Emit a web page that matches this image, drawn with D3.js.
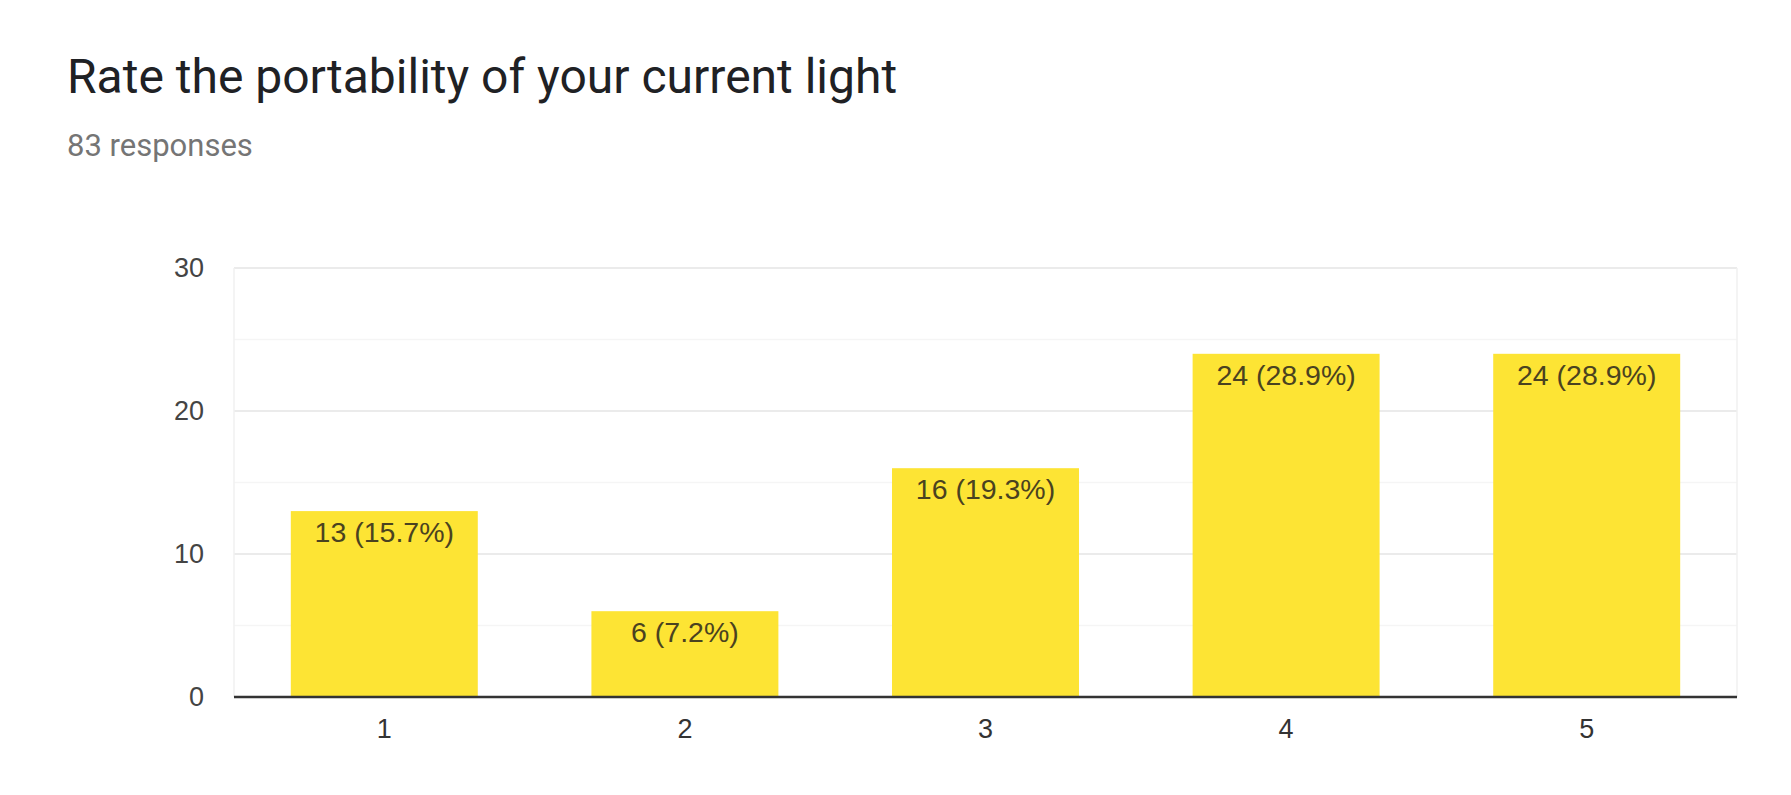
<!DOCTYPE html>
<html>
<head>
<meta charset="utf-8">
<script src="https://cdn.jsdelivr.net/npm/d3@7"></script>
<style>
  body { margin: 0; background: #fff; }
  svg { display: block; }
</style>
</head>
<body>
<div id="chart"></div>
<script>
// Data
var categories = ["1", "2", "3", "4", "5"];
var counts = [13, 6, 16, 24, 24];
var percents = ["15.7%", "7.2%", "19.3%", "28.9%", "28.9%"];
var yTicks = [0, 10, 20, 30];
var yMinorTicks = [5, 15, 25];

var W = 1791, H = 795;
var plotLeft = 234, plotRight = 1737, plotTop = 268, plotBottom = 697;

var svg = d3.select('#chart').append('svg')
    .attr('width', W)
    .attr('height', H)

// title + subtitle
svg.append('text')
    .attr('x', 67).attr('y', 93)
    .attr('font-family', 'Roboto, sans-serif')
    .attr('font-size', 48)
    .attr('fill', '#202124')
    .text('Rate the portability of your current light')

svg.append('text')
    .attr('x', 67).attr('y', 156)
    .attr('font-family', 'Roboto, sans-serif')
    .attr('font-size', 31)
    .attr('fill', '#757575')
    .text('83 responses')

// scales
var x = d3.scaleBand()
    .domain(categories)
    .range([plotLeft, plotRight])
    .paddingInner(0.378)
    .paddingOuter(0.189)

var y = d3.scaleLinear()
    .domain([0, 30])
    .range([plotBottom, plotTop])

// minor grid
svg.append('g').selectAll('line')
    .data(yMinorTicks)
    .enter().append('line')
        .attr('x1', plotLeft).attr('x2', plotRight)
        .attr('y1', function (d) { return y(d) })
        .attr('y2', function (d) { return y(d) })
        .attr('stroke', '#f5f5f5')
        .attr('stroke-width', 1.5)

// major grid
svg.append('g').selectAll('line')
    .data(yTicks.filter(function (d) { return d > 0 }))
    .enter().append('line')
        .attr('x1', plotLeft).attr('x2', plotRight)
        .attr('y1', function (d) { return y(d) })
        .attr('y2', function (d) { return y(d) })
        .attr('stroke', '#ebebeb')
        .attr('stroke-width', 2)

// side borders
svg.append('g').selectAll('line')
    .data([plotLeft, plotRight])
    .enter().append('line')
        .attr('x1', function (d) { return d }).attr('x2', function (d) { return d })
        .attr('y1', plotTop).attr('y2', plotBottom)
        .attr('stroke', '#f0f0f0')
        .attr('stroke-width', 1.5)

// y axis labels
var yAxis = d3.axisLeft(y).tickValues(yTicks).tickSize(0).tickPadding(30)
svg.append('g')
    .attr('transform', 'translate(' + plotLeft + ',0)')
    .call(yAxis)
    .call(function (g) { g.select('.domain').remove() })
    .selectAll('text')
        .attr('font-family', 'Arial, "Liberation Sans", sans-serif')
        .attr('font-size', 27)
        .attr('fill', '#444')

// bars
svg.append('g').selectAll('rect')
    .data(counts)
    .enter().append('rect')
        .attr('x', function (d, i) { return x(categories[i]) })
        .attr('y', function (d) { return y(d) })
        .attr('width', x.bandwidth())
        .attr('height', function (d) { return y(0) - y(d) })
        .attr('fill', '#fde434')

// value labels
svg.append('g').selectAll('text')
    .data(counts)
    .enter().append('text')
        .attr('x', function (d, i) { return x(categories[i]) + x.bandwidth() / 2 })
        .attr('y', function (d) { return y(d) + 31 })
        .attr('text-anchor', 'middle')
        .attr('font-family', 'Arial, "Liberation Sans", sans-serif')
        .attr('font-size', 28.5)
        .attr('fill', '#4a4220')
        .text(function (d, i) { return d + ' (' + percents[i] + ')' })

// x axis
var xAxis = d3.axisBottom(x).tickSize(0).tickPadding(22)
svg.append('g')
    .attr('transform', 'translate(0,' + y(0) + ')')
    .call(xAxis)
    .call(function (g) {
        g.select('.domain').attr('stroke', '#333').attr('stroke-width', 2.5)
            .attr('d', 'M' + plotLeft + ',0H' + plotRight)
    })
    .selectAll('text')
        .attr('font-family', 'Arial, "Liberation Sans", sans-serif')
        .attr('font-size', 27)
        .attr('fill', '#333')
</script>
</body>
</html>
